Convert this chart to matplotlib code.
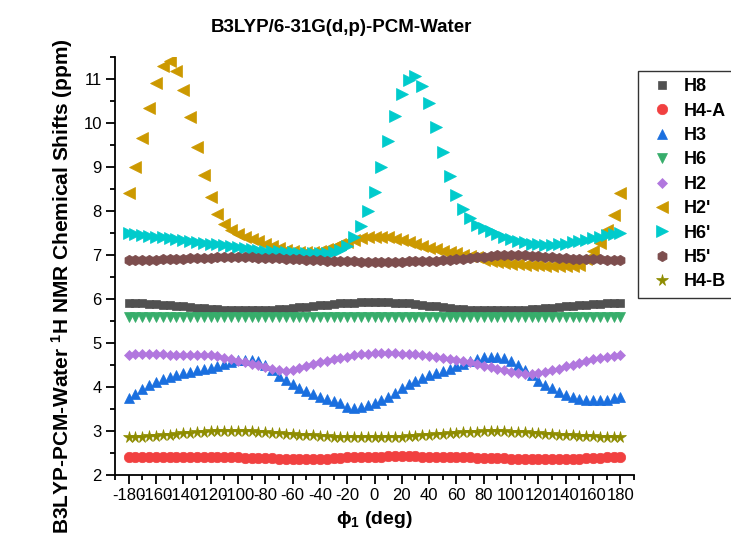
import numpy as np
import matplotlib
matplotlib.use("Agg")
import matplotlib.pyplot as plt
from matplotlib.ticker import MultipleLocator

plt.rcParams['font.family'] = ['Liberation Sans', 'DejaVu Sans']
plt.rcParams['mathtext.fontset'] = 'custom'
plt.rcParams['mathtext.rm'] = 'Liberation Sans'
plt.rcParams['mathtext.bf'] = 'Liberation Sans:bold'
plt.rcParams['mathtext.it'] = 'Liberation Sans:italic'
plt.rcParams['axes.unicode_minus'] = False

# dihedral angle phi1, -180..180 every 5 deg
phi = list(range(-180, 185, 5))

h8 = [5.90, 5.90, 5.90, 5.89, 5.88, 5.87, 5.86, 5.84, 5.83, 5.81,
      5.80, 5.79, 5.78, 5.77, 5.76, 5.75, 5.75, 5.75, 5.75, 5.75,
      5.75, 5.76, 5.77, 5.78, 5.79, 5.81, 5.82, 5.84, 5.86, 5.87,
      5.89, 5.90, 5.91, 5.92, 5.93, 5.93, 5.94, 5.93, 5.93, 5.92,
      5.91, 5.90, 5.88, 5.86, 5.85, 5.83, 5.81, 5.80, 5.78, 5.77,
      5.76, 5.75, 5.75, 5.74, 5.74, 5.74, 5.75, 5.75, 5.76, 5.77,
      5.78, 5.79, 5.80, 5.82, 5.83, 5.84, 5.86, 5.87, 5.88, 5.89,
      5.90, 5.90, 5.90]
h4a = [2.41, 2.41, 2.41, 2.42, 2.42, 2.42, 2.42, 2.42, 2.42, 2.42,
       2.42, 2.42, 2.41, 2.41, 2.41, 2.40, 2.40, 2.39, 2.39, 2.38,
       2.38, 2.38, 2.37, 2.37, 2.37, 2.36, 2.36, 2.36, 2.37, 2.37,
       2.38, 2.39, 2.40, 2.40, 2.41, 2.42, 2.42, 2.42, 2.43, 2.43,
       2.43, 2.43, 2.43, 2.42, 2.42, 2.42, 2.41, 2.41, 2.40, 2.40,
       2.40, 2.39, 2.39, 2.38, 2.38, 2.38, 2.37, 2.37, 2.37, 2.36,
       2.36, 2.36, 2.36, 2.36, 2.36, 2.37, 2.37, 2.38, 2.38, 2.39,
       2.40, 2.40, 2.41]
h3 = [3.76, 3.85, 3.95, 4.05, 4.12, 4.18, 4.22, 4.27, 4.31, 4.35,
      4.38, 4.41, 4.44, 4.48, 4.52, 4.57, 4.61, 4.62, 4.61, 4.58,
      4.50, 4.38, 4.26, 4.16, 4.06, 3.98, 3.90, 3.83, 3.77, 3.72,
      3.68, 3.63, 3.55, 3.53, 3.54, 3.58, 3.63, 3.70, 3.78, 3.87,
      3.98, 4.06, 4.14, 4.21, 4.27, 4.31, 4.36, 4.41, 4.47, 4.52,
      4.58, 4.63, 4.68, 4.69, 4.68, 4.65, 4.60, 4.50, 4.38, 4.28,
      4.14, 4.05, 3.97, 3.89, 3.82, 3.77, 3.73, 3.71, 3.70, 3.70,
      3.71, 3.74, 3.78]
h6 = [5.60, 5.60, 5.60, 5.60, 5.60, 5.60, 5.60, 5.60, 5.60, 5.60,
      5.60, 5.60, 5.60, 5.60, 5.60, 5.60, 5.60, 5.60, 5.60, 5.60,
      5.60, 5.60, 5.60, 5.60, 5.60, 5.60, 5.60, 5.60, 5.60, 5.60,
      5.60, 5.60, 5.60, 5.60, 5.60, 5.60, 5.60, 5.60, 5.60, 5.60,
      5.60, 5.60, 5.60, 5.60, 5.60, 5.60, 5.60, 5.60, 5.60, 5.60,
      5.60, 5.60, 5.60, 5.60, 5.60, 5.60, 5.60, 5.60, 5.60, 5.60,
      5.60, 5.60, 5.60, 5.60, 5.60, 5.60, 5.60, 5.60, 5.60, 5.60,
      5.60, 5.60, 5.60]
h2 = [4.73, 4.74, 4.74, 4.74, 4.74, 4.74, 4.73, 4.73, 4.73, 4.73,
      4.73, 4.73, 4.72, 4.70, 4.67, 4.63, 4.59, 4.56, 4.52, 4.49,
      4.46, 4.42, 4.39, 4.37, 4.39, 4.43, 4.47, 4.52, 4.56, 4.60,
      4.63, 4.66, 4.69, 4.72, 4.74, 4.76, 4.77, 4.77, 4.77, 4.77,
      4.76, 4.75, 4.74, 4.72, 4.70, 4.68, 4.66, 4.64, 4.62, 4.59,
      4.56, 4.52, 4.48, 4.45, 4.42, 4.38, 4.35, 4.32, 4.30, 4.29,
      4.31, 4.34, 4.38, 4.42, 4.47, 4.51, 4.55, 4.59, 4.63, 4.66,
      4.69, 4.71, 4.73]
h2p = [8.41, 8.99, 9.66, 10.33, 10.91, 11.30, 11.40, 11.19, 10.74, 10.13,
       9.45, 8.82, 8.31, 7.94, 7.70, 7.57, 7.48, 7.42, 7.37, 7.31,
       7.25, 7.20, 7.16, 7.12, 7.09, 7.07, 7.06, 7.07, 7.10, 7.13,
       7.18, 7.24, 7.30, 7.35, 7.39, 7.41, 7.42, 7.42, 7.40, 7.37,
       7.33, 7.29, 7.25, 7.21, 7.17, 7.13, 7.10, 7.07, 7.04, 7.01,
       6.98, 6.95, 6.88, 6.86, 6.84, 6.82, 6.80, 6.79, 6.78, 6.77,
       6.77, 6.76, 6.76, 6.76, 6.76, 6.76, 6.78, 6.90, 7.10, 7.27,
       7.57, 7.91, 8.41]
h6p = [7.50, 7.48, 7.46, 7.44, 7.42, 7.40, 7.38, 7.36, 7.34, 7.32,
       7.30, 7.28, 7.26, 7.24, 7.22, 7.20, 7.18, 7.16, 7.14, 7.12,
       7.10, 7.09, 7.08, 7.07, 7.06, 7.05, 7.04, 7.04, 7.04, 7.05,
       7.07, 7.11, 7.20, 7.42, 7.66, 8.00, 8.44, 8.99, 9.58, 10.16,
       10.66, 10.97, 11.07, 10.85, 10.45, 9.91, 9.33, 8.80, 8.37, 8.05,
       7.84, 7.69, 7.61, 7.54, 7.47, 7.41, 7.36, 7.32, 7.29, 7.26,
       7.24, 7.23, 7.23, 7.24, 7.26, 7.29, 7.32, 7.35, 7.38, 7.42,
       7.45, 7.48, 7.50]
h5p = [6.88, 6.88, 6.88, 6.89, 6.89, 6.90, 6.91, 6.91, 6.92, 6.93,
       6.93, 6.94, 6.94, 6.95, 6.95, 6.95, 6.95, 6.95, 6.95, 6.94,
       6.94, 6.93, 6.93, 6.92, 6.91, 6.90, 6.89, 6.89, 6.88, 6.87,
       6.87, 6.86, 6.86, 6.86, 6.85, 6.85, 6.85, 6.85, 6.85, 6.85,
       6.85, 6.86, 6.86, 6.86, 6.87, 6.87, 6.88, 6.89, 6.90, 6.92,
       6.93, 6.95, 6.96, 6.98, 6.99, 7.00, 7.00, 7.00, 6.99, 6.98,
       6.97, 6.96, 6.95, 6.94, 6.93, 6.92, 6.92, 6.91, 6.90, 6.90,
       6.89, 6.89, 6.88]
h4b = [2.87, 2.87, 2.87, 2.88, 2.89, 2.90, 2.92, 2.93, 2.95, 2.96,
       2.97, 2.98, 2.99, 3.00, 3.00, 3.00, 3.00, 3.00, 2.99, 2.98,
       2.97, 2.96, 2.95, 2.94, 2.93, 2.92, 2.91, 2.90, 2.89, 2.88,
       2.87, 2.87, 2.86, 2.86, 2.86, 2.86, 2.86, 2.86, 2.86, 2.86,
       2.87, 2.88, 2.89, 2.90, 2.92, 2.93, 2.94, 2.95, 2.96, 2.97,
       2.98, 2.98, 2.99, 2.99, 2.99, 2.99, 2.98, 2.98, 2.97, 2.96,
       2.95, 2.94, 2.93, 2.92, 2.91, 2.90, 2.89, 2.88, 2.88, 2.87,
       2.87, 2.87, 2.87]

series = [
    ("H8", h8, 's', '#515151', 6),
    ("H4-A", h4a, 'o', '#F14040', 7.5),
    ("H3", h3, '^', '#1A6FDF', 7.5),
    ("H6", h6, 'v', '#37AD6B', 7.5),
    ("H2", h2, 'D', '#B177DE', 5.5),
    ("H2'", h2p, '<', '#CC9900', 8),
    ("H6'", h6p, '>', '#00CBCC', 8),
    ("H5'", h5p, 'h', '#7D4E4E', 7.5),
    ("H4-B", h4b, '*', '#8E8C00', 8.5),
]

fig = plt.figure(figsize=(7.31, 5.36), dpi=100)
ax = fig.add_axes([115/731, 61/536, 519/731, 418/536])

for name, vals, mk, col, ms in series:
    ax.plot(phi, vals, linestyle='none', marker=mk, color=col, ms=ms,
            mec=col, mew=0.5, label=name)

ax.set_xlim(-190, 190)
ax.set_ylim(2, 11.5)
ax.xaxis.set_major_locator(MultipleLocator(20))
ax.xaxis.set_minor_locator(MultipleLocator(10))
ax.yaxis.set_major_locator(MultipleLocator(1))
ax.yaxis.set_minor_locator(MultipleLocator(0.5))
ax.spines['top'].set_visible(False)
ax.spines['right'].set_visible(False)
for s in ['left', 'bottom']:
    ax.spines[s].set_linewidth(1.3)
ax.tick_params(which='major', direction='out', length=6.5, width=1.3,
               labelsize=12, pad=3)
ax.tick_params(which='minor', direction='out', length=3.5, width=1.3)

ax.set_xlabel("ϕ$_\\mathbf{1}$ (deg)", fontsize=14, fontweight='bold',
              labelpad=4)
fig.text(62/731, 1 - 286/536,
         "B3LYP-PCM-Water $^\\mathbf{1}$H NMR Chemical Shifts (ppm)",
         rotation=90, ha='center', va='center', fontsize=15,
         fontweight='bold')
fig.text(341/731, 1 - 27/536, "B3LYP/6-31G(d,p)-PCM-Water",
         ha='center', va='center', fontsize=13.5, fontweight='bold')

leg = fig.legend(loc='upper left', bbox_to_anchor=(638/731, 1 - 71/536),
                 frameon=True, fancybox=False, edgecolor='black',
                 prop={'weight': 'bold', 'size': 13}, borderpad=0.4,
                 handlelength=1.9, handletextpad=0.25, labelspacing=0.41,
                 borderaxespad=0)
leg.get_frame().set_linewidth(1.0)

fig.savefig("out.png", dpi=100)
